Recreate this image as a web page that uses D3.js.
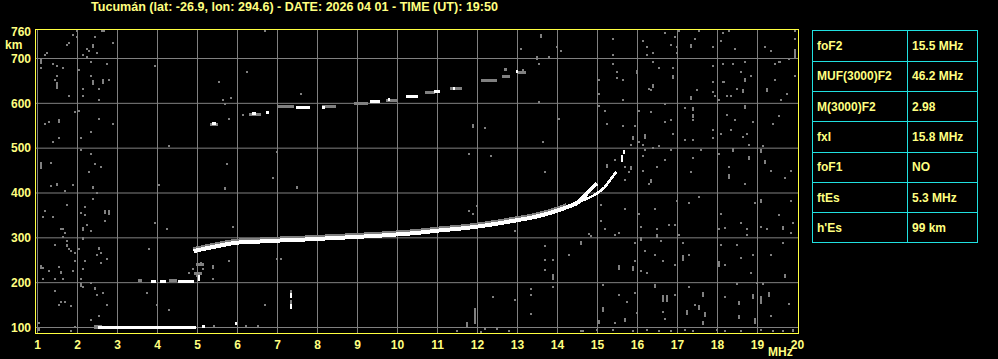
<!DOCTYPE html>
<html>
<head>
<meta charset="utf-8">
<script src="https://cdn.jsdelivr.net/npm/d3@7"></script>
<style>
  body { margin: 0; background: #000; }
  svg { display: block; }
  text { font-family: "Liberation Sans", Arial, sans-serif; font-weight: bold; }
</style>
</head>
<body>
<script>
// ionogram - Tucuman, frequency (MHz) vs virtual height (km)

var title = "Tucumán (lat: -26.9, lon: 294.6) - DATE: 2026 04 01 - TIME (UT): 19:50";

var freqTicks = d3.range(1, 21);
var heightTicks = [100, 200, 300, 400, 500, 600, 700];

// scaled parameters table
var paramNames = ["foF2", "MUF(3000)F2", "M(3000)F2", "fxI", "foF1", "ftEs", "h'Es"];
var paramValues = ["15.5 MHz", "46.2 MHz", "2.98", "15.8 MHz", "NO", "5.3 MHz", "99 km"];

// F2 trace, ordinary and extraordinary [MHz, km]
var fTraceO = [[4.9,270],[5.04,273],[5.47,281],[5.97,289],[6.4,291],[6.79,293],[7.64,296],[8.3,299],[8.97,302],
  [9.57,305],[10.07,308],[10.5,311],[11.0,316],[11.72,322],[12.3,329],[12.97,339],[13.4,346],[13.79,355],
  [14.22,368],[14.54,381],[14.72,398],[14.99,422]];
var fTraceX = [[14.54,381],[14.75,388],[14.97,398],[15.18,413],[15.34,432],[15.47,447]];
var fTopSpecks = [[15.6,473],[15.62,481],[15.65,491]];

// E / Es traces: [fStart, fEnd, km]
var eTrace = [[2.52,4.97,101],[5.12,5.2,103],[5.93,5.99,108]];
var esTrace = [[3.84,3.97,203],[4.07,4.22,203],[4.52,4.93,203],[5.02,5.06,206],[5.02,5.06,213]];
var esShadow = [[3.5,3.6,204],[4.3,4.5,204],[4.9,5.1,220],[4.95,5.15,240]];

// second hop trace [fStart, fEnd, km]
var hop2 = [[5.35,5.45,555],[6.35,6.45,578],[6.7,6.78,580],[7.45,7.8,591],[8.1,8.18,591],[9.3,9.55,605],
  [9.77,9.82,609],[10.2,10.5,616],[10.9,11.04,626],[11.38,11.42,633],[12.95,13.0,671]];
var hop2Shadow = [[5.3,5.5,552],[6.3,6.6,576],[7.0,7.4,593],[8.1,8.45,593],[8.9,9.25,600],[9.7,10.0,607],
  [10.7,10.95,624],[11.3,11.6,632],[12.1,12.5,652],[12.6,12.8,660],[13.0,13.2,668],[12.65,12.72,675]];

// vertical white streak [MHz, kmLow, kmHigh]
var whiteStreaks = [[7.34,165,176],[7.34,142,153]];

// gray noise specks [MHz, km]
var noiseSpecks = [
  [1.98,761],[1.89,752],[1.99,748],[2.62,761],[2.65,761],[2.43,748],[1.79,734],[1.73,730],[2.88,735],[2.38,729],
  [2.38,725],[1.23,712],[1.18,708],[2.24,721],[2.29,717],[2.49,712],[2.13,708],[2.24,703],[1.39,687],[1.49,683],
  [1.64,678],[1.09,678],[2.34,692],[2.74,687],[2.04,674],[1.49,660],[2.34,660],[1.44,651],[2.63,649],[2.79,651],
  [2.14,633],[2.54,633],[1.79,616],[2.14,616],[2.54,607],[3.94,683],[6.69,761],[6.24,669],[5.54,647],[5.84,611],
  [5.64,607],[5.68,598],[5.79,566],[6.14,575],[7.59,620],[2.04,584],[1.94,580],[1.18,553],[1.29,558],[2.54,566],
  [2.89,553],[2.34,535],[2.09,522],[1.54,522],[1.39,513],[2.09,495],[2.34,486],[1.34,468],[2.44,464],[2.59,459],
  [2.29,446],[1.49,417],[1.89,417],[2.38,412],[4.29,504],[4.04,417],[5.73,464],[6.99,491],[6.89,433],[5.69,412],
  [7.49,412],
  [13.08,721],[14.08,717],[13.78,703],[13.53,687],[13.13,674],[13.98,726],[16.68,757],[16.93,748],[17.03,761],
  [17.53,761],[18.28,761],[18.13,757],[18.08,739],[19.93,761],[19.93,744],[15.38,744],[16.13,739],[16.23,726],
  [16.83,730],[16.98,726],[17.43,744],[17.88,726],[18.43,721],[19.18,726],[19.33,717],[19.78,699],[15.38,708],
  [16.23,708],[16.38,712],[16.98,712],[18.13,687],[18.38,687],[18.68,692],[19.43,687],[19.53,692],[19.56,692],
  [15.38,687],[16.38,692],[16.53,678],[16.88,678],[17.88,683],[15.48,669],[18.58,669],[18.83,660],[19.93,660],
  [15.03,651],[15.48,656],[15.63,651],[17.88,647],[18.13,647],[18.16,647],[19.43,651],[16.28,633],[16.33,629],
  [17.48,629],[17.88,625],[18.48,633],[19.73,620],[15.03,620],[15.63,607],[17.93,616],[18.03,607],[18.23,616],
  [18.33,616],[19.58,607],[13.53,602],[15.03,593],[15.18,584],[16.03,584],[16.33,580],[16.68,598],[17.18,589],
  [17.38,562],[18.23,575],[19.53,571],[18.43,562],[18.88,558],[16.68,558],[16.83,562],[19.38,553],[14.03,566],
  [12.18,544],[15.23,553],[15.63,549],[15.93,549],[17.88,540],[18.33,540],[16.03,513],[15.83,508],[16.13,508],
  [16.88,531],[17.18,518],[17.38,518],[17.88,522],[18.08,531],[18.63,526],[18.73,531],[18.78,508],[19.13,504],
  [13.63,513],[11.78,486],[12.33,482],[13.68,446],[15.68,459],[16.13,482],[16.18,495],[16.38,500],[16.53,504],
  [16.68,473],[16.83,495],[16.48,459],[16.13,450],[17.38,477],[17.58,495],[17.33,446],[18.03,486],[18.28,459],
  [19.33,450],[19.83,450],[19.68,433],[18.68,419],[16.28,419],[15.68,428],[15.78,446],[15.43,473],
  [11.99,372],[11.78,360],[11.88,354],[12.93,315],[13.68,281],[13.68,251],[13.88,251],[13.68,229],[13.88,190],
  [14.28,261],[13.33,185],[13.33,172],[12.93,162],[12.38,168],[13.33,131],[12.08,91],[12.48,96],[12.78,93],
  [14.78,309],[14.83,305],[15.08,373],[15.08,337],[15.18,319],[15.43,306],[15.53,310],[15.68,364],[15.93,288],
  [15.93,248],[16.08,226],[16.23,221],[16.03,354],[16.08,324],[16.43,364],[16.48,319],[16.58,293],[16.18,270],
  [16.43,261],[16.63,248],[16.78,328],[16.93,328],[17.03,306],[16.98,382],[17.28,377],[17.28,261],[16.93,239],
  [17.53,391],[17.13,288],[16.93,172],[16.63,135],[16.68,118],[17.43,150],[17.28,190],[18.08,354],[18.03,319],
  [18.18,322],[18.18,239],[18.08,284],[18.48,284],[18.58,333],[18.73,319],[18.73,306],[18.58,254],[18.88,261],
  [18.83,221],[18.93,377],[19.08,325],[19.23,319],[19.53,351],[19.83,310],[19.88,333],[19.83,382],[19.63,288],
  [19.33,261],[19.13,196],[18.48,197],[18.98,199],[18.18,168],[19.33,126],[19.78,153],[19.88,95],[15.13,194],
  [15.53,172],[15.73,157],[15.93,178],[15.98,132],[15.43,110],
  [14.58,92],[14.63,92],[14.98,94],[15.38,94],[15.88,93],[16.23,94],[16.53,93],[16.83,93],[17.18,94],[17.38,93],
  [17.98,94],[18.18,93],[18.58,92],[19.08,94],[19.38,93],[19.63,93],[19.88,92],[12.18,97],[11.48,92],
  [1.34,415],[1.49,420],[1.69,404],[1.89,418],[2.39,413],[2.49,400],[1.74,373],[2.39,386],[1.19,360],[1.14,346],
  [1.39,346],[2.09,355],[2.19,369],[2.19,351],[2.69,337],[2.24,328],[1.59,319],[1.64,319],[1.69,310],[2.34,315],
  [1.64,302],[1.74,293],[1.44,284],[1.79,275],[1.84,270],[1.94,267],[2.04,275],[2.59,266],[2.49,261],[2.74,252],
  [1.94,248],[2.19,248],[1.14,233],[1.29,226],[1.54,235],[1.89,226],[2.14,230],[2.59,244],[1.14,208],[1.44,208],
  [1.64,208],[2.09,208],[2.34,199],[2.14,190],[1.44,181],[2.49,172],[2.64,177],[1.59,156],[1.54,151],[1.69,156],
  [1.84,147],[2.74,151],[2.54,125],[2.34,116],[1.94,102],[1.04,111],[1.84,93],[3.74,177],[3.79,275],[3.94,333],
  [4.24,319],[4.04,418],[3.99,151],[4.29,138],[4.79,221],[4.89,230],[4.99,239],[5.09,244],[5.14,230],[5.39,208],
  [5.79,248],[5.89,324],[7.49,413],[6.99,252],[7.09,252],[6.69,151],[6.2,104],[6.5,104],[5.4,104]
];

// vertical gray streaks [MHz, kmLow, kmHigh]
var noiseStreaks = [
  [1.49,633,645],[1.09,455,466],[1.09,690,697],[2.38,642,649],[2.63,645,651],[1.54,558,562],[13.58,748,752],
  [13.48,700,704],[19.93,700,718],[17.33,725,729],[16.38,638,642],[15.98,669,673],[16.88,656,660],[18.68,651,655],
  [19.23,629,633],[18.63,625,629],[17.33,611,615],[17.38,585,589],[17.38,571,575],[18.68,589,593],[11.88,548,552],
  [15.88,522,526],[16.18,522,529],[15.23,459,463],[15.83,455,459],[18.38,495,499],[18.78,476,480],[19.08,491,495],
  [19.18,468,472],[18.28,433,440],[16.33,426,430],[14.58,286,291],[13.88,208,216],[11.93,110,142],[11.73,100,110],
  [15.53,230,237],[15.88,227,234],[16.08,295,300],[16.48,302,307],[18.03,235,245],[17.13,252,260],[16.43,190,195],
  [16.63,158,170],[16.73,158,170],[17.23,130,137],[17.53,141,147],[17.63,171,178],[17.68,125,132],[17.63,108,112],
  [19.68,212,217],[18.88,165,172],[19.08,155,168],[19.28,171,178],[18.53,151,156],[18.53,120,125],[18.93,111,120],
  [15.13,137,143],[15.68,115,119],[15.03,110,115],[19.08,380,385],[19.63,319,324],[2.14,318,323],[2.14,297,300],
  [1.74,281,284],[2.54,275,278],[2.69,355,359],[2.79,353,359],[1.09,234,238],[1.59,221,224],[2.09,192,196],
  [2.44,186,189],[1.04,94,97],[5.39,233,237],[4.99,215,219],[5.69,409,412],[7.34,154,160],[7.34,176,182]
];

var width = 998,
    height = 359;

var svg = d3.select("body").append("svg")
    .attr("width", width)
    .attr("height", height)
    .style("background", "#000");

var x = d3.scaleLinear().domain([1, 20]).range([37.5, 797.5]);
var y = d3.scaleLinear().domain([100, 700]).range([327.5, 58.5]);

var yellowText = "#ffff80",
    frameColor = "#ffff40",
    gridColor = "#808080";

// title
svg.append("text")
    .attr("x", 91)
    .attr("y", 11)
    .attr("textLength", 407)
    .attr("lengthAdjust", "spacingAndGlyphs")
    .attr("fill", yellowText)
    .style("font-size", "12px")
    .text(title);

// grid
var plot = svg.append("g");

plot.selectAll("line.vgrid")
    .data(freqTicks.slice(0, -1))
  .enter().append("line")
    .attr("class", "vgrid")
    .attr("x1", function(d) { return x(d); })
    .attr("x2", function(d) { return x(d); })
    .attr("y1", 29.5)
    .attr("y2", 333.5)
    .attr("stroke", gridColor)
    .attr("stroke-width", 1);

plot.selectAll("line.hgrid")
    .data(heightTicks)
  .enter().append("line")
    .attr("class", "hgrid")
    .attr("x1", 35.5)
    .attr("x2", 798.5)
    .attr("y1", function(d) { return y(d); })
    .attr("y2", function(d) { return y(d); })
    .attr("stroke", gridColor)
    .attr("stroke-width", 1);

// noise
plot.selectAll("rect.speck")
    .data(noiseSpecks)
  .enter().append("rect")
    .attr("class", "speck")
    .attr("x", function(d) { return Math.round(x(d[0])) - 1; })
    .attr("y", function(d) { return Math.round(y(d[1])) - 1; })
    .attr("width", 2)
    .attr("height", 2)
    .attr("fill", gridColor);

plot.selectAll("rect.streak")
    .data(noiseStreaks)
  .enter().append("rect")
    .attr("class", "streak")
    .attr("x", function(d) { return Math.round(x(d[0])) - 1; })
    .attr("y", function(d) { return Math.round(y(d[2])) - 1; })
    .attr("width", 2)
    .attr("height", function(d) { return Math.max(2, Math.round(y(d[1]) - y(d[2])) + 2); })
    .attr("fill", gridColor);

// horizontal echo segments
function segments(data, cls, color, thick, dy) {
  plot.selectAll("rect." + cls)
      .data(data)
    .enter().append("rect")
      .attr("class", cls)
      .attr("x", function(d) { return Math.round(x(d[0])); })
      .attr("y", function(d) { return Math.round(y(d[2]) - thick / 2 + (dy || 0)); })
      .attr("width", function(d) { return Math.max(2, Math.round(x(d[1]) - x(d[0]))); })
      .attr("height", thick)
      .attr("fill", color);
}

segments(hop2Shadow, "hop2s", gridColor, 3, 0);
segments(esShadow, "ess", gridColor, 3, 0);
segments([[2.4, 2.6, 101]], "es0", gridColor, 4, 0);
segments(eTrace, "etrace", "#fff", 3, 0);
segments(esTrace, "estrace", "#fff", 3, 0);
segments(hop2, "hop2", "#fff", 3, 0);

// F2 traces
var line = d3.line()
    .x(function(d) { return x(d[0]); })
    .y(function(d) { return y(d[1]); })
    .curve(d3.curveMonotoneX);

plot.append("path")
    .datum(fTraceO.slice(0, -3))
    .attr("d", line)
    .attr("fill", "none")
    .attr("stroke", gridColor)
    .attr("stroke-width", 4)
    .attr("shape-rendering", "crispEdges")
    .attr("transform", "translate(0,-2)");

plot.append("path")
    .datum(fTraceO)
    .attr("d", line)
    .attr("fill", "none")
    .attr("stroke", "#fff")
    .attr("stroke-width", 4)
    .attr("shape-rendering", "crispEdges");

plot.append("path")
    .datum(fTraceX)
    .attr("d", line)
    .attr("fill", "none")
    .attr("stroke", "#fff")
    .attr("stroke-width", 2.5)
    .attr("shape-rendering", "crispEdges");

plot.selectAll("rect.ftop")
    .data(fTopSpecks)
  .enter().append("rect")
    .attr("class", "ftop")
    .attr("x", function(d) { return Math.round(x(d[0])) - 1; })
    .attr("y", function(d) { return Math.round(y(d[1])) - 2; })
    .attr("width", 2)
    .attr("height", 4)
    .attr("fill", "#fff");

plot.selectAll("rect.wstreak")
    .data(whiteStreaks)
  .enter().append("rect")
    .attr("class", "wstreak")
    .attr("x", function(d) { return Math.round(x(d[0])) - 1; })
    .attr("y", function(d) { return Math.round(y(d[2])); })
    .attr("width", 2)
    .attr("height", function(d) { return Math.round(y(d[1]) - y(d[2])); })
    .attr("fill", "#fff");

// frame
svg.append("rect")
    .attr("x", 35.5)
    .attr("y", 29.5)
    .attr("width", 763)
    .attr("height", 304)
    .attr("fill", "none")
    .attr("stroke", frameColor)
    .attr("stroke-width", 1);

// axis labels
svg.selectAll("text.ylab")
    .data(heightTicks)
  .enter().append("text")
    .attr("class", "ylab")
    .attr("x", 31)
    .attr("y", function(d) { return y(d) + 4.3; })
    .attr("text-anchor", "end")
    .attr("fill", yellowText)
    .style("font-size", "12px")
    .text(function(d) { return d; });

svg.append("text")
    .attr("x", 31).attr("y", 35.6)
    .attr("text-anchor", "end")
    .attr("fill", yellowText)
    .style("font-size", "12px")
    .text("760");

svg.append("text")
    .attr("x", 5).attr("y", 49.3)
    .attr("fill", yellowText)
    .style("font-size", "12px")
    .text("km");

svg.selectAll("text.xlab")
    .data(freqTicks)
  .enter().append("text")
    .attr("class", "xlab")
    .attr("x", function(d) { return x(d); })
    .attr("y", 349)
    .attr("text-anchor", "middle")
    .attr("fill", yellowText)
    .style("font-size", "12px")
    .text(function(d) { return d; });

svg.append("text")
    .attr("x", 768).attr("y", 355.5)
    .attr("fill", yellowText)
    .style("font-size", "12px")
    .text("MHz");

// parameter table
var rowY = d3.scaleBand().domain(d3.range(paramNames.length)).range([30.5, 242.5]);
var table = svg.append("g");

table.append("rect")
    .attr("x", 812.5).attr("y", 30.5)
    .attr("width", 165).attr("height", 212)
    .attr("fill", "none")
    .attr("stroke", "#20e0e0");

table.append("line")
    .attr("x1", 907.5).attr("x2", 907.5)
    .attr("y1", 30.5).attr("y2", 242.5)
    .attr("stroke", "#20e0e0");

table.selectAll("line.row")
    .data(d3.range(1, paramNames.length))
  .enter().append("line")
    .attr("class", "row")
    .attr("x1", 812.5).attr("x2", 977.5)
    .attr("y1", function(d) { return Math.round(rowY(d)) + 0.5; })
    .attr("y2", function(d) { return Math.round(rowY(d)) + 0.5; })
    .attr("stroke", "#20e0e0");

table.selectAll("text.pname")
    .data(paramNames)
  .enter().append("text")
    .attr("class", "pname")
    .attr("x", 817)
    .attr("y", function(d, i) { return rowY(i) + rowY.bandwidth() / 2 + 4.5; })
    .attr("fill", yellowText)
    .style("font-size", "12px")
    .text(function(d) { return d; });

table.selectAll("text.pval")
    .data(paramValues)
  .enter().append("text")
    .attr("class", "pval")
    .attr("x", 912)
    .attr("y", function(d, i) { return rowY(i) + rowY.bandwidth() / 2 + 4.5; })
    .attr("fill", yellowText)
    .style("font-size", "12px")
    .text(function(d) { return d; });
</script>
</body>
</html>
